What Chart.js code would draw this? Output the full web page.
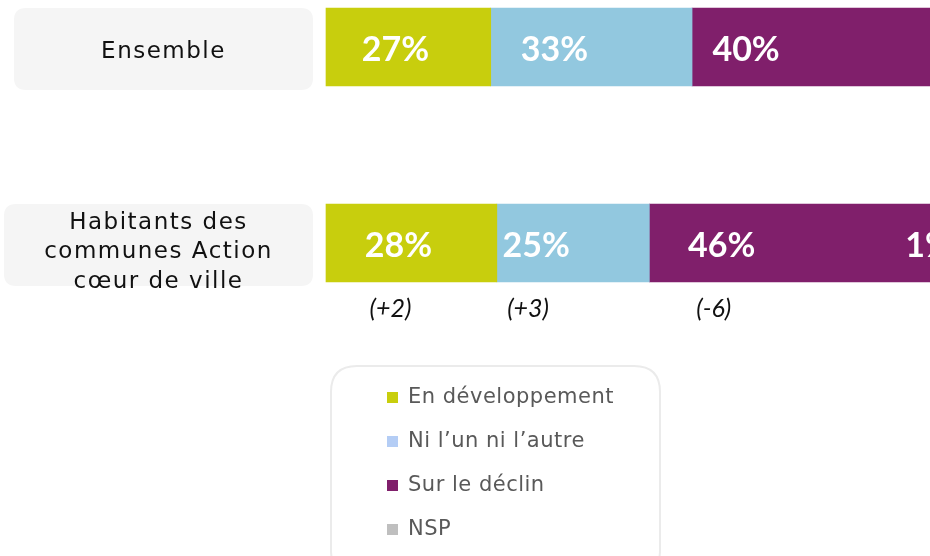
<!DOCTYPE html>
<html><head><meta charset="utf-8">
<script src="https://cdn.jsdelivr.net/npm/chart.js@4.4.0/dist/chart.umd.min.js"></script>
<style>html,body{margin:0;padding:0;background:#fff;overflow:hidden}canvas{display:block}</style>
</head><body>
<canvas id="c" width="930" height="556"></canvas>
<script>
// ---- data ----
const categories = ["Ensemble", ["Habitants des", "communes Action", "cœur de ville"]];
const seriesNames = ["En développement", "Ni l’un ni l’autre", "Sur le déclin", "NSP"];
const enDeveloppement = [27, 28];
const niLunNiLautre = [33, 25];
const surLeDeclin = [40, 46];
const nsp = [0, 1];
const evolDeveloppement = [null, "(+2)"];
const evolNiLun = [null, "(+3)"];
const evolDeclin = [null, "(-6)"];
const evolNsp = [null, null];

// ---- styles ----
const FONT = "'DejaVu Sans', sans-serif";
const BOLD_FONT = "Lato, 'Open Sans', sans-serif";
const barColors = ["#C8CE0D", "#92C8DF", "#801F6B", "#BFBFBF"];
const legendColors = ["#C8CE0D", "#B4CDF5", "#801F6B", "#BFBFBF"];
const labelShift = [-13, -37, -68, -4];
const boxLeft = [14, 4];

function rr(ctx, x, y, w, h, r) {
  ctx.beginPath();
  ctx.moveTo(x + r, y);
  ctx.lineTo(x + w - r, y);
  ctx.quadraticCurveTo(x + w, y, x + w, y + r);
  ctx.lineTo(x + w, y + h - r);
  ctx.quadraticCurveTo(x + w, y + h, x + w - r, y + h);
  ctx.lineTo(x + r, y + h);
  ctx.quadraticCurveTo(x, y + h, x, y + h - r);
  ctx.lineTo(x, y + r);
  ctx.quadraticCurveTo(x, y, x + r, y);
  ctx.closePath();
}

const evols = [evolDeveloppement, evolNiLun, evolDeclin, evolNsp];

const decor = {
  id: 'decor',
  beforeDatasetsDraw(chart) {
    const ctx = chart.ctx, ys = chart.scales.y;
    ctx.save();
    categories.forEach((cat, i) => {
      const yc = ys.getPixelForValue(i);
      const l = boxLeft[i], r = 313;
      rr(ctx, l, yc - 39, r - l, 82, 12);
      ctx.fillStyle = "#F5F5F5";
      ctx.fill();
      const lines = Array.isArray(cat) ? cat : [cat];
      ctx.fillStyle = "#111111";
      ctx.font = "23px " + FONT;
      ctx.letterSpacing = "1.5px";
      ctx.textAlign = "center";
      ctx.textBaseline = "alphabetic";
      const mid = (lines.length - 1) / 2;
      lines.forEach((t, k) => {
        ctx.fillText(t, (l + r) / 2, yc + 11 + (lines.length - 1) * 2 + (k - mid) * 29.5);
      });
    });
    // legend box
    rr(ctx, 331, 366, 329, 210, 26);
    ctx.strokeStyle = "#EBEBEB";
    ctx.lineWidth = 2;
    ctx.stroke();
    ctx.font = "21px " + FONT;
    ctx.letterSpacing = "0.5px";
    ctx.textAlign = "left";
    ctx.textBaseline = "middle";
    chart.data.datasets.forEach((ds, k) => {
      const y = 397 + k * 44;
      ctx.fillStyle = legendColors[k];
      ctx.fillRect(387, y - 5, 11, 11);
      ctx.fillStyle = "#595959";
      ctx.fillText(ds.label, 408, y + 1);
    });
    ctx.restore();
  },
  afterDatasetsDraw(chart) {
    const ctx = chart.ctx;
    ctx.save();
    ctx.textAlign = "center";
    ctx.textBaseline = "middle";
    chart.data.datasets.forEach((ds, d) => {
      const meta = chart.getDatasetMeta(d);
      meta.data.forEach((bar, i) => {
        const v = ds.data[i];
        const cx = (bar.x + bar.base) / 2 + labelShift[d];
        if (v > 0) {
          ctx.fillStyle = "#FFFFFF";
          ctx.font = "bold 34px " + BOLD_FONT;
          ctx.fillText(v + "%", cx, bar.y + 3);
        }
        const ev = evols[d][i];
        if (ev) {
          ctx.fillStyle = "#111111";
          ctx.font = "italic 25px " + BOLD_FONT;
          ctx.fillText(ev, cx - 8, bar.y + 66);
        }
      });
    });
    ctx.restore();
  }
};

const seriesData = [enDeveloppement, niLunNiLautre, surLeDeclin, nsp];

new Chart(document.getElementById("c"), {
  type: "bar",
  data: {
    labels: categories,
    datasets: seriesData.map((arr, k) => ({
      label: seriesNames[k],
      data: arr,
      backgroundColor: barColors[k],
      borderWidth: 0,
      barThickness: 78,
      clip: false
    }))
  },
  options: {
    indexAxis: "y",
    responsive: false,
    animation: false,
    devicePixelRatio: 1,
    layout: { padding: { left: 326, right: 0, top: 47, bottom: 313 } },
    scales: {
      x: { stacked: true, min: 0, max: 99, display: false },
      y: { stacked: true, offset: false, display: false }
    },
    plugins: { legend: { display: false }, tooltip: { enabled: false } }
  },
  plugins: [decor]
});
</script></body></html>
